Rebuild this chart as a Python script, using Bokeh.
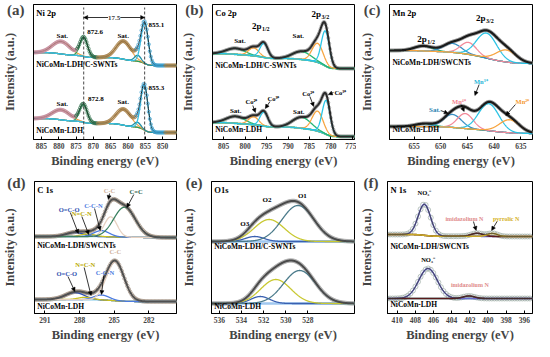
import numpy as np
from bokeh.plotting import figure
from bokeh.layouts import row, column
from bokeh.models import Range1d, Label, Arrow, NormalHead, FixedTicker
from bokeh.embed import file_html
from bokeh.resources import INLINE

FONT = "Liberation Serif"

# ---------------- data ----------------
# peak centres (eV), heights (a.u. above background), FWHM (eV), background [low-BE end, high-BE end]
# (a) Ni 2p : Sat., 2p1/2, Sat., shoulder, 2p3/2
ni_ticks = [885, 880, 875, 870, 865, 860, 855, 850]
ni_center_top = [879.3, 872.8, 861.3, 857.2, 855.2]
ni_height_top = [12.5, 19, 18, 6, 41]
ni_fwhm_top = [6.0, 2.6, 5.0, 2.2, 2.4]
ni_bg_top = [74, 87]
ni_center_bot = [879.3, 872.9, 861.3, 857.3, 855.3]
ni_height_bot = [10, 18, 16, 5, 45]
ni_fwhm_bot = [6.0, 2.6, 5.0, 2.2, 2.4]
ni_bg_bot = [7, 21]
ni_lines = [872.8, 855.2]

# (b) Co 2p : Sat., Co2+, Co3+, Sat., Co2+, Co3+
co_ticks = [805, 800, 795, 790, 785, 780, 775]
co_center_top = [802.2, 798.0, 795.6, 786.8, 783.1, 781.3]
co_height_top = [6, 8, 14, 8, 19, 35]
co_fwhm_top = [5.0, 2.8, 2.2, 5.0, 3.0, 2.2]
co_bg_top = [71, 86]
co_center_bot = [802.2, 798.0, 795.6, 786.8, 783.1, 781.1]
co_height_bot = [7, 8, 14, 11, 20, 34]
co_fwhm_bot = [5.0, 2.8, 2.2, 5.0, 3.0, 2.2]
co_bg_bot = [3, 17]

# (c) Mn 2p : 2p1/2, Sat., Mn4+, Mn3+, Mn2+
mn_ticks = [655, 650, 645, 640, 635]
mn_center_top = [653.2, 647.8, 644.8, 641.4, 637.7]
mn_height_top = [5, 9, 12, 25, 12]
mn_fwhm_top = [4.0, 4.0, 3.5, 4.5, 4.5]
mn_bg_top = [76, 89]
mn_center_bot = [653.0, 647.8, 645.4, 641.0, 637.1]
mn_height_bot = [3, 13, 15, 27, 13]
mn_fwhm_bot = [4.0, 4.0, 3.5, 4.5, 4.5]
mn_bg_bot = [6, 13]

# (d) C 1s : O=C-O, N=C-N, C-C-N, C-C, C=C
c_ticks = [291, 288, 285, 282]
c_center_top = [288.4, 287.3, 286.1, 285.3, 284.1]
c_height_top = [4, 2.5, 6, 20, 30]
c_fwhm_top = [1.8, 1.5, 1.6, 1.3, 2.2]
c_bg_top = [76, 77]
c_center_bot = [288.4, 287.5, 286.1, 284.9]
c_height_bot = [7, 2.5, 5, 39]
c_fwhm_bot = [2.0, 1.5, 1.6, 1.8]
c_bg_bot = [12, 14]

# (e) O 1s : O3, O2, O1
o_ticks = [536, 534, 532, 530, 528]
o_center_top = [532.8, 531.5, 528.9]
o_height_top = [5, 22, 36]
o_fwhm_top = [2.0, 3.2, 3.4]
o_bg_top = [72, 72]
o_center_bot = [532.3, 530.9, 528.75]
o_height_bot = [7, 24, 33]
o_fwhm_bot = [2.0, 3.2, 3.4]
o_bg_bot = [10, 10]

# (f) N 1s : NO3-, imidazolium N, pyrrolic N
n_ticks = [410, 408, 406, 404, 402, 400, 398, 396]
n_center_top = [407.0, 401.2, 399.5]
n_height_top = [31, 3, 3]
n_fwhm_top = [1.6, 1.5, 1.3]
n_bg_top = [77, 79]
n_center_bot = [406.6, 402.1]
n_height_bot = [30, 2.5]
n_fwhm_bot = [2.4, 1.5]
n_bg_bot = [15, 15]

panel_letters = ["(a)", "(b)", "(c)", "(d)", "(e)", "(f)"]


# ---------------- helpers ----------------
def gauss(x, c, h, w):
    return h * np.exp(-4 * np.log(2) * (x - c) ** 2 / w ** 2)


def fit(x, centers, heights, fwhms, bg):
    comps = [gauss(x, c, h, w) for c, h, w in zip(centers, heights, fwhms)]
    total = np.sum(comps, axis=0)
    order = np.argsort(x)
    cum = np.empty_like(x)
    cum[order] = np.cumsum(total[order])
    frac = cum / cum.max()
    base = bg[0] + (bg[1] - bg[0]) * frac
    return [base + c for c in comps], base, base + total, comps


W = 178
LEFTS = [24, 26, 28]
META = {}


def make_fig(xr, ticks, col, rw, letter):
    left = LEFTS[col]
    if rw == 0:
        fh, top, bottom, ymax, ylet = 135, 4, 20, 135, 132
    else:
        fh, top, bottom, ymax, ylet = 132, 11, 20, 132, 131
    p = figure(width=W, frame_height=fh, x_range=Range1d(xr[0], xr[1]),
               y_range=Range1d(0, ymax),
               output_backend="svg", toolbar_location=None,
               min_border_left=left, min_border_right=2, min_border_top=top,
               min_border_bottom=bottom)
    p.xgrid.visible = False
    p.ygrid.visible = False
    p.outline_line_color = "black"
    p.outline_line_alpha = 1.0
    p.outline_line_width = 1
    p.background_fill_color = "white"
    p.border_fill_color = "white"
    xa = p.xaxis[0]
    xa.ticker = FixedTicker(ticks=ticks)
    xa.axis_label = "Binding energy (eV)"
    xa.axis_label_text_font = FONT
    xa.axis_label_text_font_style = "bold"
    xa.axis_label_text_font_size = "12.5px"
    xa.axis_label_standoff = 2
    xa.major_label_text_font = FONT
    xa.major_label_text_font_style = "bold"
    xa.major_label_text_font_size = "7.5px"
    xa.major_label_standoff = 3
    xa.major_tick_in = 3
    xa.major_tick_out = 0
    xa.minor_tick_line_color = None
    xa.axis_line_color = "black"
    # the y axis carries the panel letter as its only tick label
    ya = p.yaxis[0]
    ya.ticker = FixedTicker(ticks=[ylet])
    ya.major_label_overrides = {ylet: letter}
    ya.major_label_text_font = FONT
    ya.major_label_text_font_style = "bold"
    ya.major_label_text_font_size = "15px"
    ya.major_label_standoff = 3
    ya.axis_label = "Intensity (a.u.)"
    ya.axis_label_text_font = FONT
    ya.axis_label_text_font_style = "bold"
    ya.axis_label_text_font_size = "12.5px"
    ya.axis_label_standoff = -13
    ya.major_tick_line_color = None
    ya.minor_tick_line_color = None
    ya.axis_line_color = "black"
    fw = W - left - 2
    META[p.id] = dict(ppx=fw / (xr[0] - xr[1]), xl=xr[0], ymax=ymax, left=left)
    return p


def txt(p, x, y, s, size="7px", color="black", align="center", baseline="middle", yoff=0, xoff=0):
    p.add_layout(Label(x=x, y=y, text=s, text_font=FONT, text_font_size=size,
                       text_font_style="bold", text_color=color, text_align=align,
                       text_baseline=baseline, x_offset=xoff, y_offset=yoff))


def sub(p, x, y, main, s, color="black", size="9px", ssize="6px"):
    txt(p, x, y, main, size=size, color=color, align="right")
    txt(p, x, y, s, size=ssize, color=color, align="left", yoff=-3, xoff=0.5)


def arrow(p, x0, y0, x1, y1, color="black", start=False):
    kw = {}
    if start:
        kw["start"] = NormalHead(size=4, fill_color=color, line_color=color, line_width=0.5)
    p.add_layout(Arrow(end=NormalHead(size=4, fill_color=color, line_color=color, line_width=0.5),
                       x_start=x0, y_start=y0, x_end=x1, y_end=y1,
                       line_color=color, line_width=0.8, **kw))


def frame_texts(p, title, top_name, top_y, bot_name, bot_y):
    m = META[p.id]
    xin = m["xl"] - 3 / m["ppx"]
    txt(p, xin, m["ymax"] - 8, title, size="8.5px", align="left")
    txt(p, xin, top_y, top_name, size="7.5px", align="left")
    txt(p, xin, bot_y, bot_name, size="7.5px", align="left")


def draw(p, xr, centers, heights, fwhms, bg, comp_colors, bg_color, env_color, env_width,
         pt_colors, pt_step, pt_size, comp_width=1.3, points_on_top=False, bg_width=1.3,
         pt_alpha=0.9):
    x = np.linspace(xr[0], xr[1], 600)
    comps, base, env, _ = fit(x, centers, heights, fwhms, bg)
    xp = np.arange(xr[0], xr[1], -pt_step)
    _, _, envp, rawp = fit(xp, centers, heights, fwhms, bg)
    if isinstance(pt_colors, list):
        dom = np.argmax(np.array(rawp), axis=0)
        cols = [pt_colors[i] for i in dom]
    else:
        cols = pt_colors

    def pts():
        p.scatter(xp, envp, marker="circle", size=pt_size, fill_color=None,
                  line_color=cols, line_width=0.8, line_alpha=pt_alpha)

    if not points_on_top:
        pts()
    p.line(x, base, line_color=bg_color, line_width=bg_width)
    for c, col in zip(comps, comp_colors):
        p.line(x, c, line_color=col, line_width=comp_width)
    p.line(x, env, line_color=env_color, line_width=env_width)
    if points_on_top:
        pts()


# ---------------- (a) Ni 2p ----------------
xr_a = (887.3, 846.0)
pa = make_fig(xr_a, ni_ticks, 0, 0, panel_letters[0])
ni_cols = ["#f2a24a", "#2aa05a", "#f2a24a", "#1d8fa5", "#38c0e2"]
ni_pcols = ["#c48c9c", "#2e6e4a", "#a8844e", "#2a7fa8", "#3a9fd0"]
for cen, hei, fw, bg in [(ni_center_top, ni_height_top, ni_fwhm_top, ni_bg_top),
                         (ni_center_bot, ni_height_bot, ni_fwhm_bot, ni_bg_bot)]:
    draw(pa, xr_a, cen, hei, fw, bg, ni_cols, "#f08a8a", "#202020", 1.0, ni_pcols, 0.3, 3.2,
         points_on_top=True)
pa.segment(x0=ni_lines, y0=[0, 0], x1=ni_lines, y1=[132, 132], line_color="#333333",
           line_dash="3 2", line_width=0.9)
arrow(pa, 872.8, 122, 855.2, 122, start=True)
pa.add_layout(Label(x=864.0, y=122, text="17.5", text_font=FONT, text_font_size="7px",
                    text_font_style="bold", text_align="center", text_baseline="middle",
                    background_fill_color="white"))
for s, x, y in [("Sat.", 879.0, 104), ("872.6", 869.5, 108), ("Sat.", 861.4, 104), ("855.1", 851.8, 115),
                ("Sat.", 879.0, 36), ("872.8", 869.3, 41), ("Sat.", 861.4, 38), ("855.3", 851.8, 52)]:
    txt(pa, x, y, s)
frame_texts(pa, "Ni 2p", "NiCoMn-LDH/C-SWNTs", 75, "NiCoMn-LDH", 9)

# ---------------- (b) Co 2p ----------------
xr_b = (807.6, 774.5)
pb = make_fig(xr_b, co_ticks, 1, 0, panel_letters[1])
co_cols = ["#22b573", "#f7a541", "#29c5e6", "#22b573", "#f7a541", "#29c5e6"]
for cen, hei, fw, bg in [(co_center_top, co_height_top, co_fwhm_top, co_bg_top),
                         (co_center_bot, co_height_bot, co_fwhm_bot, co_bg_bot)]:
    draw(pb, xr_b, cen, hei, fw, bg, co_cols, "#22b573", "#2a2a2a", 2.0, "#9a9a9a", 0.2, 3.0,
         bg_width=1.8)
txt(pb, 801.2, 99, "Sat.")
sub(pb, 796.2, 114, "2p", "1/2")
txt(pb, 787.6, 104, "Sat.")
sub(pb, 782.3, 126, "2p", "3/2")
txt(pb, 802.2, 29, "Sat.")
txt(pb, 787.5, 28, "Sat.")
for s, x, y in [("Co²⁺", 798.5, 38), ("Co³⁺", 793.4, 41), ("Co²⁺", 785.3, 46), ("Co³⁺", 777.8, 47)]:
    txt(pb, x, y, s, size="6.5px")
arrow(pb, 798.2, 34, 797.6, 27)
arrow(pb, 794.2, 38, 795.3, 31)
arrow(pb, 784.9, 43, 784.0, 33)
arrow(pb, 779.4, 47, 780.6, 45)
frame_texts(pb, "Co 2p", "NiCoMn-LDH/C-SWNTs", 74, "NiCoMn-LDH", 10)

# ---------------- (c) Mn 2p ----------------
xr_c = (659.6, 632.8)
pc = make_fig(xr_c, mn_ticks, 2, 0, panel_letters[2])
mn_cols = ["#2cb07a", "#3a8fc4", "#f28a9a", "#2cc3e4", "#f7a541"]
for cen, hei, fw, bg in [(mn_center_top, mn_height_top, mn_fwhm_top, mn_bg_top),
                         (mn_center_bot, mn_height_bot, mn_fwhm_bot, mn_bg_bot)]:
    draw(pc, xr_c, cen, hei, fw, bg, mn_cols, "#1f7d96", "#1a1a1a", 2.2, "#9a9a9a", 0.15, 3.0)
sub(pc, 652.6, 101, "2p", "1/2")
sub(pc, 641.6, 122, "2p", "3/2")
txt(pc, 651.1, 30, "Sat.", color="#2a7fb0")
txt(pc, 646.6, 38, "Mn⁴⁺", color="#f07f8f", size="6.5px")
txt(pc, 642.5, 58, "Mn³⁺", color="#1fb5d8", size="6.5px")
txt(pc, 634.7, 38, "Mn²⁺", color="#f59a30", size="6.5px")
arrow(pc, 650.0, 29, 648.6, 26)
arrow(pc, 646.2, 35, 645.6, 28)
arrow(pc, 642.8, 55, 643.6, 44)
arrow(pc, 636.0, 35, 637.8, 24)
frame_texts(pc, "Mn 2p", "NiCoMn-LDH/SWCNTs", 77, "NiCoMn-LDH", 10)

# ---------------- (d) C 1s ----------------
xr_d = (291.9, 279.6)
pd_ = make_fig(xr_d, c_ticks, 0, 1, panel_letters[3])
c_cols = ["#2f4fb0", "#c8c020", "#4a7ae0", "#e6d0c0", "#3a8060"]
draw(pd_, xr_d, c_center_top, c_height_top, c_fwhm_top, c_bg_top, c_cols, "#7fc8e8", "#505050",
     2.0, "#a09080", 0.12, 3.6)
draw(pd_, xr_d, c_center_bot, c_height_bot, c_fwhm_bot, c_bg_bot, c_cols[:4], "#7fc8e8", "#505050",
     2.0, "#a09080", 0.12, 3.6)
for s, x, y, c in [("O=C-O", 288.9, 104, "#2f4fb0"), ("N=C-N", 287.8, 100, "#b8a800"),
                   ("C-C-N", 286.8, 108, "#4a7ae0"), ("C-C", 285.4, 123, "#d0b098"),
                   ("C=C", 283.1, 122, "#2a6048"),
                   ("O=C-O", 289.1, 40, "#2f4fb0"), ("N=C-N", 287.5, 49, "#b8a800"),
                   ("C-C-N", 285.8, 41, "#4a7ae0"), ("C-C", 284.9, 62, "#d0b098")]:
    txt(pd_, x, y, s, color=c, size="6.5px")
arrow(pd_, 288.8, 101, 288.1, 80)
arrow(pd_, 287.8, 97, 287.2, 79)
arrow(pd_, 286.7, 105, 286.2, 83)
arrow(pd_, 285.4, 120, 285.5, 114)
arrow(pd_, 283.3, 119, 283.9, 106)
arrow(pd_, 289.0, 37, 288.4, 22)
arrow(pd_, 287.6, 46, 287.0, 18)
arrow(pd_, 285.9, 38, 286.1, 19)
frame_texts(pd_, "C 1s", "NiCoMn-LDH/SWCNTs", 68, "NiCoMn-LDH", 7)

# ---------------- (e) O 1s ----------------
xr_e = (536.7, 523.8)
pe = make_fig(xr_e, o_ticks, 1, 1, panel_letters[4])
o_cols = ["#3a60b0", "#c8c830", "#4a7a8a"]
for cen, hei, fw, bg in [(o_center_top, o_height_top, o_fwhm_top, o_bg_top),
                         (o_center_bot, o_height_bot, o_fwhm_bot, o_bg_bot)]:
    draw(pe, xr_e, cen, hei, fw, bg, o_cols, "#a0c8f0", "#4a4a4a", 2.0, "#a8a8a8", 0.1, 3.5,
         bg_width=2.5)
txt(pe, 533.7, 90, "O3")
txt(pe, 531.7, 114, "O2")
txt(pe, 528.5, 118, "O1")
frame_texts(pe, "O1s", "NiCoMn-LDH/C-SWNTs", 67, "NiCoMn-LDH", 7)

# ---------------- (f) N 1s ----------------
xr_f = (411.06, 395.1)
pf = make_fig(xr_f, n_ticks, 2, 1, panel_letters[5])
draw(pf, xr_f, n_center_top, n_height_top, n_fwhm_top, n_bg_top,
     ["#6a6ad0", "#5a1a1a", "#c8a828"], "#d0c040", "#3a3a3a", 1.0, "#a0b0a8", 0.28, 5.0,
     comp_width=1.6)
draw(pf, xr_f, n_center_bot, n_height_bot, n_fwhm_bot, n_bg_bot,
     ["#6a6ad0", "#5a1a1a"], "#1a7070", "#3a3a3a", 1.0, "#a0b0a8", 0.28, 5.0, comp_width=1.6)
txt(pf, 407.0, 121, "NO₃⁻", size="6.5px")
txt(pf, 406.6, 54, "NO₃⁻", size="6.5px")
txt(pf, 402.6, 95, "imidazolium N", color="#e08a8a", size="6px")
txt(pf, 398.0, 95, "pyrrolic N", color="#d4b020", size="6px")
txt(pf, 402.0, 29, "imidazolium N", color="#e08a8a", size="6px")
arrow(pf, 401.6, 92, 401.3, 83)
arrow(pf, 399.0, 92, 399.6, 83)
frame_texts(pf, "N 1s", "NiCoMn-LDH/SWCNTs", 67, "NiCoMn-LDH", 9)

layout = column(row(pa, pb, pc), row(pd_, pe, pf))
open("out.html", "w").write(file_html(layout, INLINE))
